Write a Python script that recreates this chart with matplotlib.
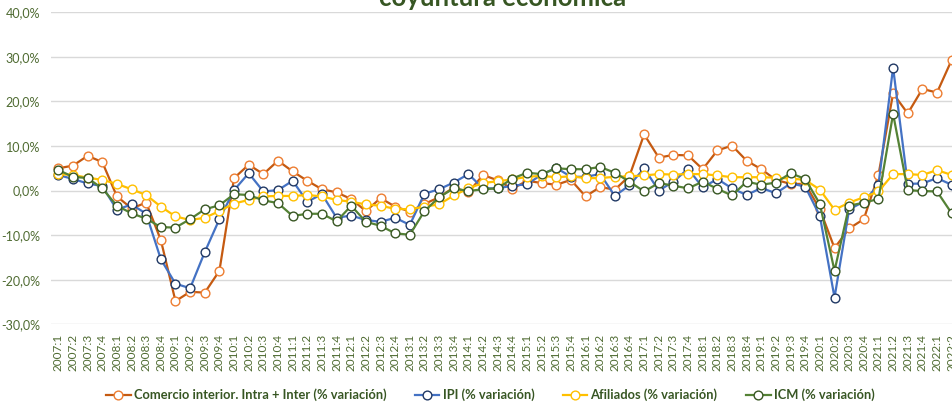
import matplotlib
matplotlib.use('Agg')
import matplotlib.pyplot as plt
from matplotlib.ticker import FuncFormatter

# quarters 2007:1 .. 2022:2
quarters = ['%d:%d' % (y, q) for y in range(2007, 2023) for q in range(1, 5)][:62]

comercio = [5.0, 5.6, 7.8, 6.4, -1.3, -4.0, -2.7, -11.1, -24.8, -22.7, -22.9, -18.0,
            2.8, 5.8, 3.7, 6.7, 4.3, 2.2, 0.3, -0.4, -1.9, -4.6, -1.7, -3.6,
            -4.7, -3.0, -1.5, 0.7, -0.4, 3.5, 2.3, 0.4, 2.2, 1.7, 1.3, 2.4,
            -1.3, 0.8, 0.2, 3.3, 12.6, 7.4, 8.0, 7.9, 4.8, 9.0, 10.1, 6.7,
            4.8, 2.4, 1.5, 1.5, -4.2, -12.9, -8.5, -6.4, 3.5, 21.8, 17.3, 22.8,
            22.0, 29.3]
ipi = [3.5, 2.6, 1.6, 1.0, -4.3, -3.1, -5.2, -15.4, -20.9, -21.9, -13.8, -6.4,
       0.1, 3.9, -0.2, 0.1, 2.2, -2.5, -0.8, -6.1, -5.6, -6.6, -7.0, -6.1,
       -7.7, -0.7, 0.3, 1.8, 3.7, 0.5, 0.5, 1.1, 1.4, 3.6, 5.1, 3.1,
       3.1, 3.7, -1.2, 1.2, 5.0, 0.0, 2.0, 4.9, 0.7, 2.6, 0.5, -1.0,
       0.6, -0.6, 1.6, 0.9, -5.7, -24.0, -4.2, -2.5, 1.3, 27.6, 1.5, 1.6,
       2.8, 1.3]
afiliados = [3.7, 3.5, 2.9, 2.4, 1.5, 0.3, -1.0, -3.6, -5.8, -6.6, -6.1, -4.6,
             -2.9, -2.1, -1.3, -1.2, -1.2, -1.0, -1.3, -2.1, -2.5, -3.1, -3.4, -4.1,
             -4.2, -3.6, -3.1, -1.1, 0.5, 1.7, 2.1, 2.5, 3.1, 3.3, 3.0, 3.2,
             2.8, 2.8, 3.1, 3.2, 3.4, 3.7, 3.6, 3.7, 3.7, 3.4, 3.0, 3.0,
             3.0, 2.9, 2.7, 2.4, 0.2, -4.3, -2.7, -1.5, -0.2, 3.7, 3.7, 3.5,
             4.6, 3.5]
icm = [4.6, 3.1, 2.8, 0.5, -3.4, -5.1, -6.3, -8.2, -8.3, -6.4, -4.2, -3.3,
       -0.8, -1.0, -2.2, -2.8, -5.7, -5.2, -5.2, -6.9, -3.4, -7.0, -7.9, -9.6,
       -9.9, -4.6, -1.5, 0.5, -0.1, 0.3, 0.5, 2.7, 4.0, 3.7, 5.0, 4.8,
       4.8, 5.3, 4.0, 2.0, -0.2, 1.7, 1.1, 0.5, 2.0, 0.4, -1.1, 2.0,
       1.3, 1.8, 3.9, 2.6, -3.0, -18.0, -3.4, -2.7, -1.9, 17.2, 0.1, -0.1,
       -0.2, -5.1]

series = [
    ('Comercio interior. Intra + Inter (% variación)', comercio, '#C55A11', '#ED7D31'),
    ('IPI (% variación)', ipi, '#4472C4', '#203864'),
    ('Afiliados (% variación)', afiliados, '#FFC000', '#FFC000'),
    ('ICM (% variación)', icm, '#548235', '#385723'),
]

text_green = '#4F6B32'
plt.rcParams['font.family'] = ['Lato', 'DejaVu Sans']

fig = plt.figure(figsize=(9.52, 4.03), dpi=100)
ax = fig.add_axes([51 / 952, 1 - 324.3 / 403, 908 / 952, 312 / 403])

x = list(range(len(quarters)))
for label, vals, col, edge in series:
    ax.plot(x, vals, color=col, lw=1.6, marker='o', ms=6.3, mfc='white',
            mec=edge, mew=1.0, label=label)

ax.set_xlim(-0.5, len(quarters) - 0.5)
ax.set_ylim(-30, 40)
ax.set_yticks(range(-30, 41, 10))
ax.yaxis.set_major_formatter(FuncFormatter(lambda v, p: ('%.1f%%' % v).replace('.', ',')))
ax.set_xticks(x)
ax.set_xticklabels(quarters, rotation=90)
ax.tick_params(axis='y', length=0, pad=8, labelsize=9, labelcolor=text_green)
ax.tick_params(axis='x', length=0, pad=7, labelsize=8.5, labelcolor=text_green)
ax.grid(axis='y', color='#D9D9D9', lw=1.0)
ax.set_axisbelow(True)
for s in ax.spines.values():
    s.set_visible(False)

fig.text(0.528, 1 - 6 / 403, 'coyuntura económica', ha='center', va='baseline',
         fontsize=18.5, fontweight='bold', color='#375623')

leg = fig.legend(loc='center', bbox_to_anchor=(0.515, 1 - 395 / 403), ncol=4,
                 frameon=False, fontsize=9.3, handlelength=1.9, columnspacing=2.2,
                 handletextpad=0.25)
for t in leg.get_texts():
    t.set_color('#375623')
    t.set_fontweight('bold')

fig.savefig('out.png', dpi=100)
